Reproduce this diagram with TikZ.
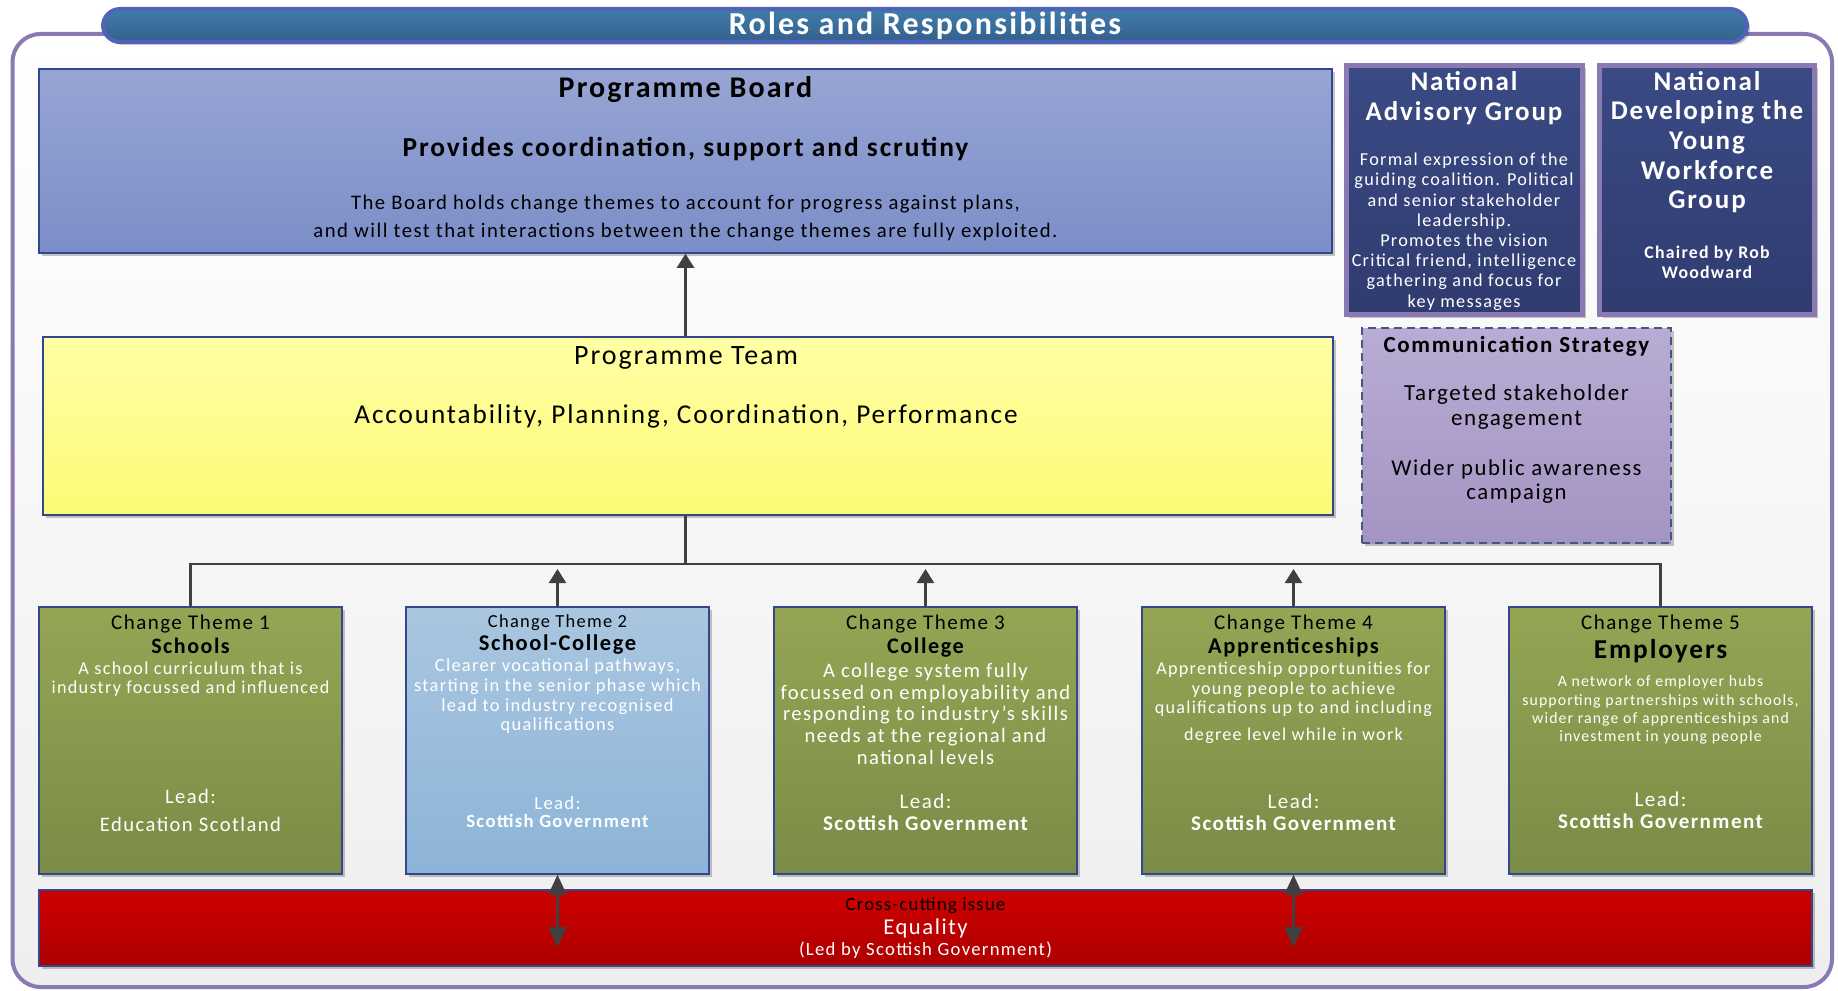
\documentclass[tikz,border=0pt]{standalone}
\usepackage{fontspec}
\setmainfont{Carlito}[LetterSpace=7]
\usetikzlibrary{arrows.meta,fit,shadows}
\definecolor{framepurple}{RGB}{138,121,179}
\definecolor{bggray}{RGB}{238,238,238}
\definecolor{bannerline}{RGB}{79,99,184}
\definecolor{bannertop}{RGB}{64,124,170}
\definecolor{bannerbot}{RGB}{52,96,140}
\definecolor{boxline}{RGB}{52,70,140}
\definecolor{pbtop}{RGB}{151,165,211}
\definecolor{pbbot}{RGB}{124,142,200}
\definecolor{pttop}{RGB}{255,255,165}
\definecolor{ptbot}{RGB}{251,251,118}
\definecolor{navytop}{RGB}{58,74,132}
\definecolor{navybot}{RGB}{48,60,112}
\definecolor{commtop}{RGB}{184,172,212}
\definecolor{commbot}{RGB}{164,148,194}
\definecolor{commline}{RGB}{72,84,130}
\definecolor{greentop}{RGB}{148,166,84}
\definecolor{greenbot}{RGB}{122,140,70}
\definecolor{bluetop}{RGB}{170,198,224}
\definecolor{bluebot}{RGB}{140,180,216}
\definecolor{redtop}{RGB}{206,0,0}
\definecolor{redbot}{RGB}{172,0,0}
\definecolor{arrgray}{RGB}{64,64,64}
\tikzset{
  shad/.style={drop shadow={shadow xshift=3pt,shadow yshift=-3pt,fill=black,opacity=0.22}},
  box/.style={draw=boxline,line width=1.5pt,inner sep=0pt,shad},
  tx/.style={inner sep=0pt,anchor=north,align=center},
  conn/.style={draw=arrgray,line width=2.5pt},
  arr/.style={conn,-{Triangle[length=14pt,width=17pt]}},
  darr/.style={conn,{Triangle[length=20pt,width=18pt]}-{Triangle[length=20pt,width=18pt]}}
}
% name, x, y(center of first line), size, baselineskip, colour, weight, text
\newcommand\tb[8]{\node[tx,text=#6,font={\fontsize{#4}{#5}\selectfont#7}] (#1) at (#2,{#3-0.6*#4}) {\rule{0pt}{0.9em}#8};}
\begin{document}
\begin{tikzpicture}[x=1pt,y=-1pt]
\useasboundingbox (0,0) rectangle (1838,990);
% outer frame
\node[draw=framepurple,line width=4pt,rounded corners=28pt,inner sep=0pt,top color=white,bottom color=bggray,fit={(12.5,34) (1832,987)}] (frame) {};
% banner
\node[draw=bannerline,line width=4pt,rounded corners=17pt,inner sep=0pt,top color=bannertop,bottom color=bannerbot,shad,fit={(103,9) (1747,42)}] (banner) {};
\tb{title}{925}{25}{32}{36}{white}{\bfseries}{Roles and Responsibilities}
% programme board
\node[box,top color=pbtop,bottom color=pbbot,fit={(39,69) (1332,253)}] (pb) {};
\tb{pbt}{685.5}{88}{30}{34}{black}{\bfseries}{Programme Board}
\tb{pbs}{685.5}{148}{27.4}{30}{black}{\bfseries}{Provides coordination, support and scrutiny}
\tb{pbd}{685.5}{203}{20.7}{28}{black}{}{The Board holds change themes to account for progress against plans,\\and will test that interactions between the change themes are fully exploited.}
% programme team
\node[box,top color=pttop,bottom color=ptbot,fit={(43,337) (1333,515)}] (pt) {};
\tb{ptt}{686}{356}{28}{32}{black}{}{Programme Team}
\tb{pts}{686}{415}{27.2}{31}{black}{}{Accountability, Planning, Coordination, Performance}
% national advisory group
\node[draw=framepurple,line width=5pt,inner sep=0pt,top color=navytop,bottom color=navybot,shad,fit={(1346,65.5) (1582.5,314.5)}] (nag) {};
\tb{nagt}{1464}{82}{27}{30}{white}{\bfseries}{National\\Advisory Group}
\tb{nagd}{1464}{160}{18.2}{20.2}{white}{}{Formal expression of the\\guiding coalition. Political\\and senior stakeholder\\leadership.\\Promotes the vision\\Critical friend, intelligence\\gathering and focus for\\key messages}
% national DYW group
\node[draw=framepurple,line width=5pt,inner sep=0pt,top color=navytop,bottom color=navybot,shad,fit={(1599.5,65.5) (1814.5,314.5)}] (ndy) {};
\tb{ndyt}{1707}{82}{27}{29.6}{white}{\bfseries}{National\\Developing the\\Young\\Workforce\\Group}
\tb{ndyc}{1707}{253}{17.8}{20}{white}{\bfseries}{Chaired by Rob\\Woodward}
% communication strategy
\node[draw=commline,line width=1.5pt,dash pattern=on 8pt off 5pt,inner sep=0pt,top color=commtop,bottom color=commbot,shad,fit={(1362,328) (1671,543)}] (comm) {};
\tb{commt}{1516.5}{345}{23}{25}{black}{\bfseries}{Communication Strategy}
\tb{comma}{1516.5}{393}{23}{25}{black}{}{Targeted stakeholder\\engagement}
\tb{commb}{1516.5}{468}{22.7}{24}{black}{}{Wider public awareness\\campaign}
% change themes
\node[box,top color=greentop,bottom color=greenbot,fit={(39,607) (342,874)}] (ct1) {};
\node[box,top color=bluetop,bottom color=bluebot,fit={(406,607) (709,874)}] (ct2) {};
\node[box,top color=greentop,bottom color=greenbot,fit={(774,607) (1077,874)}] (ct3) {};
\node[box,top color=greentop,bottom color=greenbot,fit={(1142,607) (1445,874)}] (ct4) {};
\node[box,top color=greentop,bottom color=greenbot,fit={(1509,607) (1812,874)}] (ct5) {};
% theme 1
\tb{c1a}{190.5}{623}{21}{24}{black}{}{Change Theme 1}
\tb{c1b}{190.5}{647}{22}{26}{black}{\bfseries}{Schools}
\tb{c1c}{190.5}{669}{18.2}{19}{white}{}{A school curriculum that is\\industry focussed and influenced}
\tb{c1d}{190.5}{797}{20.6}{24}{white}{}{Lead:}
\tb{c1e}{190.5}{825}{20.6}{24}{white}{}{Education Scotland}
% theme 2
\tb{c2a}{557.5}{622}{18.4}{22}{black}{}{Change Theme 2}
\tb{c2b}{557.5}{644}{22.5}{26}{black}{\bfseries}{School-College}
\tb{c2c}{557.5}{666}{18.4}{19.7}{white}{}{Clearer vocational pathways,\\starting in the senior phase which\\lead to industry recognised\\qualifications}
\tb{c2d}{557.5}{804}{18.7}{22}{white}{}{Lead:}
\tb{c2e}{557.5}{822}{18.7}{22}{white}{\bfseries}{Scottish Government}
% theme 3
\tb{c3a}{925.5}{623}{21}{24}{black}{}{Change Theme 3}
\tb{c3b}{925.5}{647}{22.3}{26}{black}{\bfseries}{College}
\tb{c3c}{925.5}{671}{20.6}{21.7}{white}{}{A college system fully\\focussed on employability and\\responding to industry’s skills\\needs at the regional and\\national levels}
\tb{c3d}{925.5}{802}{21}{24}{white}{}{Lead:}
\tb{c3e}{925.5}{824}{21}{24}{white}{\bfseries}{Scottish Government}
% theme 4
\tb{c4a}{1293.5}{623}{21}{24}{black}{}{Change Theme 4}
\tb{c4b}{1293.5}{647}{22.5}{26}{black}{\bfseries}{Apprenticeships}
\tb{c4c}{1293.5}{669}{18.1}{19.5}{white}{}{Apprenticeship opportunities for\\young people to achieve\\qualifications up to and including}
\tb{c4f}{1293.5}{735}{18.1}{19.5}{white}{}{degree level while in work}
\tb{c4d}{1293.5}{802}{21}{24}{white}{}{Lead:}
\tb{c4e}{1293.5}{824}{21}{24}{white}{\bfseries}{Scottish Government}
% theme 5
\tb{c5a}{1660.5}{623}{21}{24}{black}{}{Change Theme 5}
\tb{c5b}{1660.5}{650}{27.3}{31}{black}{\bfseries}{Employers}
\tb{c5c}{1660.5}{682}{15.8}{18.3}{white}{}{A network of employer hubs\\supporting partnerships with schools,\\wider range of apprenticeships and\\investment in young people}
\tb{c5d}{1660.5}{800}{21}{24}{white}{}{Lead:}
\tb{c5e}{1660.5}{822}{21}{24}{white}{\bfseries}{Scottish Government}
% cross-cutting bar
\node[box,top color=redtop,bottom color=redbot,fit={(39,890) (1812,966)}] (red) {};
\tb{ra}{925.5}{905}{18.6}{21}{black}{}{Cross-cutting issue}
\tb{rb}{925.5}{928}{22.6}{26}{white}{}{Equality}
\tb{rc}{925.5}{950}{18.7}{22}{white}{}{(Led by Scottish Government)}
% connectors
\coordinate (junc) at (685.5,564);
\coordinate (tipy) at (0,569);
\coordinate (boty) at (0,947);
\draw[arr] (pt.north -| pb.south) -- (pb.south);
\draw[conn] (pt.south -| pb.south) -- (junc);
\draw[conn] (ct1.north) -- (ct1.north |- junc) -- (ct5.north |- junc) -- (ct5.north);
\draw[arr] (ct2.north) -- (ct2.north |- tipy);
\draw[arr] (ct3.north) -- (ct3.north |- tipy);
\draw[arr] (ct4.north) -- (ct4.north |- tipy);
\draw[darr] (ct2.south) -- (ct2.south |- boty);
\draw[darr] (ct4.south) -- (ct4.south |- boty);
\end{tikzpicture}
\end{document}
